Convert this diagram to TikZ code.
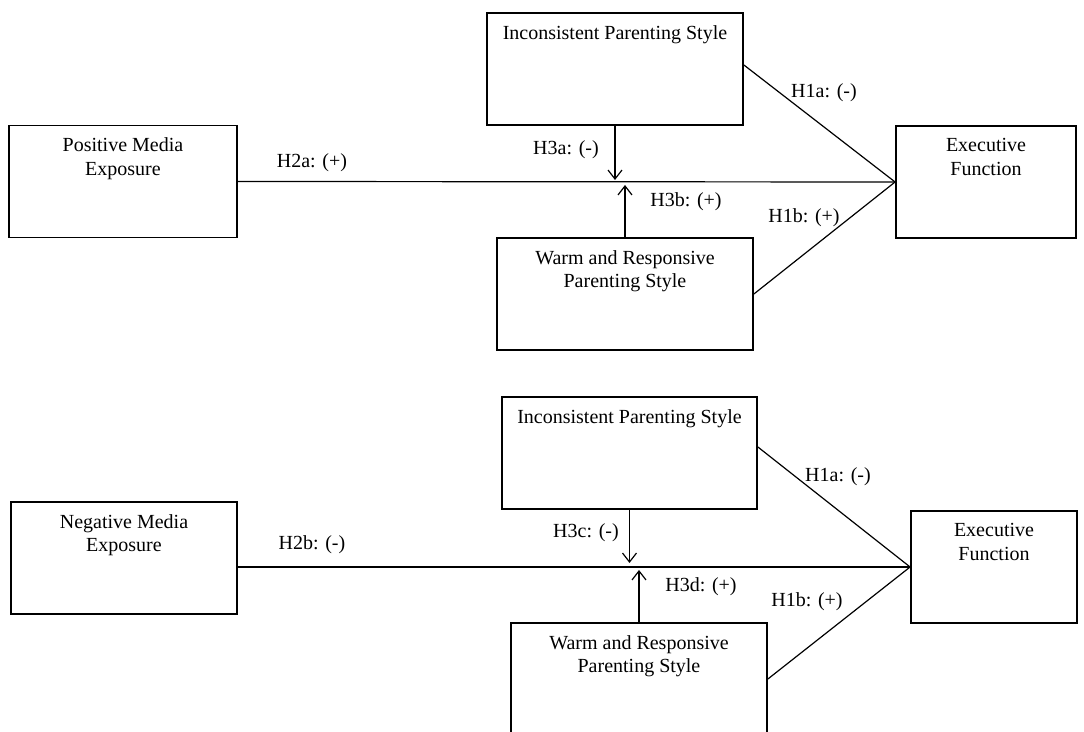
\documentclass[tikz,border=0pt]{standalone}
\usepackage{fontspec}
\setmainfont{Liberation Serif}
\usetikzlibrary{arrows.meta,positioning}

\tikzset{
  varbox/.style={draw, line width=0.9pt, minimum height=56pt, inner sep=0pt},
  boxtext/.style={align=center, inner sep=0pt, font=\fontsize{10}{11.8}\selectfont},
  hyp/.style={inner sep=0pt, font=\fontsize{10}{12}\selectfont},
  link/.style={line width=0.6pt},
  moder/.style={link, -{Straight Barb[length=4.5pt,width=7pt]}}
}

\begin{document}
\begin{tikzpicture}[x=0.5pt,y=-0.5pt]
  \useasboundingbox (0,0) rectangle (1084,732);
  % upper model: positive media exposure
  \node[varbox, minimum width=114pt] (pme) at (123,181.5) {};
  \node[varbox, minimum width=128pt] (ips1) at (615,69) {};
  \node[varbox, minimum width=128pt] (wrp1) at (625,294) {};
  \node[varbox, minimum width=90pt] (ef1) at (986,182) {};
  \node[boxtext, below=6.5pt of pme.north] (pme-t) {Positive Media\\Exposure};
  \node[boxtext, below=6.5pt of ips1.north] (ips1-t) {Inconsistent Parenting Style};
  \node[boxtext, below=6.5pt of wrp1.north] (wrp1-t) {Warm and Responsive\\Parenting Style};
  \node[boxtext, below=6.5pt of ef1.north] (ef1-t) {Executive\\Function};
  \coordinate (j1a) at (615,180);
  \coordinate (j1b) at (625,185);
  \draw[link] (pme.east) -- (ef1.west);
  \draw[link] ([yshift=2pt]ips1.east) -- (ef1.west);
  \draw[link] (wrp1.east) -- (ef1.west);
  \draw[moder] (ips1.south) -- (j1a);
  \draw[moder] (wrp1.north) -- (j1b);
  \node[hyp] (h1a-1) at (824,93) {H1a: (-)};
  \node[hyp] (h2a) at (312,163) {H2a: (+)};
  \node[hyp] (h3a) at (566,150) {H3a: (-)};
  \node[hyp] (h3b) at (686,202) {H3b: (+)};
  \node[hyp] (h1b-1) at (804,218) {H1b: (+)};

  % lower model: negative media exposure
  \node[varbox, minimum width=113pt] (nme) at (124,558) {};
  \node[varbox, minimum width=127.5pt] (ips2) at (629.5,453) {};
  \node[varbox, minimum width=128pt] (wrp2) at (639,679) {};
  \node[varbox, minimum width=83pt] (ef2) at (994,567) {};
  \node[boxtext, below=6.5pt of nme.north] (nme-t) {Negative Media\\Exposure};
  \node[boxtext, below=6.5pt of ips2.north] (ips2-t) {Inconsistent Parenting Style};
  \node[boxtext, below=6.5pt of wrp2.north] (wrp2-t) {Warm and Responsive\\Parenting Style};
  \node[boxtext, below=6.5pt of ef2.north] (ef2-t) {Executive\\Function};
  \coordinate (j2a) at (629.5,563);
  \coordinate (j2b) at (639,570);
  \draw[link] (nme.east |- ef2.west) -- (ef2.west);
  \draw[link] ([yshift=3pt]ips2.east) -- (ef2.west);
  \draw[link] (wrp2.east) -- (ef2.west);
  \draw[moder] (ips2.south) -- (j2a);
  \draw[moder] (wrp2.north) -- (j2b);
  \node[hyp] (h1a-2) at (838,477) {H1a: (-)};
  \node[hyp] (h2b) at (312,545) {H2b: (-)};
  \node[hyp] (h3c) at (586,533) {H3c: (-)};
  \node[hyp] (h3d) at (701,587) {H3d: (+)};
  \node[hyp] (h1b-2) at (807,602) {H1b: (+)};
\end{tikzpicture}
\end{document}
